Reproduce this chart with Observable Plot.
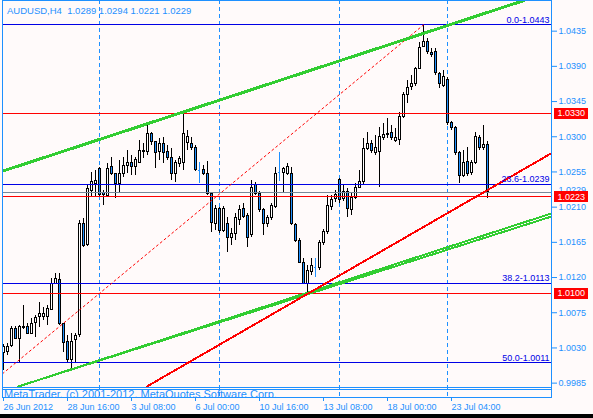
<!DOCTYPE html>
<html><head><meta charset="utf-8">
<script src="https://cdn.jsdelivr.net/npm/d3@7"></script>
<script src="https://cdn.jsdelivr.net/npm/@observablehq/plot@0.6"></script>
<style>
html,body{margin:0;padding:0;background:#000;}
#chart svg{display:block;}
</style></head><body><div id="chart"></div>
<script>
const symbol = "AUDUSD", timeframe = "H4";
const opens  = [1.0024,1.0025,1.0032,1.0054,1.0041,1.0055,1.0057,1.0048,1.0062,1.0069,1.0070,1.0070,1.0079,1.0112,1.0117,1.0060,1.0037,1.0014,1.0040,1.0046,
1.0189,1.0161,1.0231,1.0240,1.0259,1.0228,1.0224,1.0261,1.0252,1.0240,1.0253,1.0262,1.0267,1.0261,1.0267,1.0280,1.0281,1.0304,1.0293,1.0280,
1.0291,1.0280,1.0273,1.0253,1.0265,1.0266,1.0292,1.0291,1.0286,1.0257,1.0257,1.0253,1.0227,1.0189,1.0208,1.0180,1.0189,1.0170,1.0176,1.0193,
1.0208,1.0199,1.0174,1.0238,1.0227,1.0206,1.0189,1.0196,1.0210,1.0254,1.0254,1.0253,1.0253,1.0187,1.0167,1.0139,1.0112,1.0127,1.0133,1.0132,
1.0164,1.0178,1.0210,1.0220,1.0245,1.0220,1.0230,1.0206,1.0222,1.0235,1.0242,1.0284,1.0291,1.0279,1.0280,1.0299,1.0302,1.0305,1.0295,1.0296,
1.0325,1.0353,1.0363,1.0367,1.0387,1.0415,1.0421,1.0407,1.0408,1.0380,1.0365,1.0372,1.0317,1.0311,1.0279,1.0250,1.0268,1.0254,1.0267,1.0299,
1.0285,1.0289];
const highs  = [1.0034,1.0036,1.0057,1.0057,1.0059,1.0084,1.0061,1.0068,1.0072,1.0088,1.0082,1.0084,1.0119,1.0125,1.0125,1.0061,1.0046,1.0048,1.0048,1.0193,
1.0196,1.0239,1.0254,1.0257,1.0261,1.0231,1.0266,1.0273,1.0253,1.0270,1.0273,1.0282,1.0276,1.0273,1.0295,1.0291,1.0317,1.0305,1.0294,1.0298,
1.0299,1.0289,1.0285,1.0270,1.0275,1.0330,1.0308,1.0299,1.0289,1.0267,1.0263,1.0268,1.0229,1.0212,1.0209,1.0211,1.0197,1.0183,1.0202,1.0212,
1.0215,1.0202,1.0244,1.0242,1.0230,1.0208,1.0199,1.0215,1.0261,1.0280,1.0261,1.0266,1.0261,1.0189,1.0170,1.0144,1.0135,1.0144,1.0144,1.0167,
1.0181,1.0225,1.0225,1.0231,1.0247,1.0238,1.0234,1.0229,1.0240,1.0257,1.0298,1.0305,1.0295,1.0302,1.0312,1.0317,1.0323,1.0314,1.0311,1.0331,
1.0357,1.0372,1.0378,1.0389,1.0421,1.0443,1.0426,1.0413,1.0413,1.0382,1.0385,1.0376,1.0320,1.0313,1.0281,1.0282,1.0286,1.0270,1.0305,1.0302,
1.0314,1.0294];
const lows   = [1.0001,1.0020,1.0031,1.0041,1.0010,1.0054,1.0047,1.0047,1.0043,1.0056,1.0065,1.0059,1.0078,1.0111,1.0059,1.0024,1.0011,1.0001,1.0010,1.0043,
1.0158,1.0160,1.0222,1.0224,1.0224,1.0212,1.0222,1.0250,1.0221,1.0227,1.0248,1.0253,1.0250,1.0250,1.0266,1.0272,1.0276,1.0289,1.0259,1.0270,
1.0266,1.0270,1.0244,1.0241,1.0261,1.0257,1.0282,1.0282,1.0256,1.0240,1.0250,1.0225,1.0178,1.0180,1.0176,1.0178,1.0152,1.0161,1.0167,1.0187,
1.0196,1.0158,1.0171,1.0225,1.0203,1.0174,1.0184,1.0193,1.0208,1.0243,1.0227,1.0250,1.0187,1.0165,1.0138,1.0111,1.0101,1.0123,1.0120,1.0129,
1.0161,1.0175,1.0206,1.0216,1.0215,1.0217,1.0197,1.0199,1.0220,1.0234,1.0239,1.0282,1.0279,1.0276,1.0235,1.0295,1.0298,1.0295,1.0293,1.0289,
1.0323,1.0343,1.0359,1.0364,1.0386,1.0414,1.0405,1.0401,1.0378,1.0362,1.0363,1.0314,1.0308,1.0276,1.0240,1.0248,1.0249,1.0250,1.0265,1.0282,
1.0282,1.0221];
const closes = [1.0031,1.0031,1.0054,1.0042,1.0057,1.0057,1.0048,1.0061,1.0068,1.0073,1.0074,1.0080,1.0112,1.0118,1.0060,1.0036,1.0014,1.0038,1.0045,1.0189,
1.0160,1.0233,1.0242,1.0244,1.0226,1.0225,1.0259,1.0253,1.0239,1.0253,1.0263,1.0267,1.0261,1.0270,1.0282,1.0282,1.0303,1.0293,1.0279,1.0291,
1.0279,1.0273,1.0253,1.0266,1.0271,1.0304,1.0300,1.0286,1.0258,1.0257,1.0253,1.0227,1.0190,1.0207,1.0180,1.0208,1.0170,1.0176,1.0196,1.0206,
1.0198,1.0171,1.0235,1.0227,1.0206,1.0189,1.0196,1.0212,1.0253,1.0254,1.0259,1.0261,1.0188,1.0167,1.0139,1.0112,1.0128,1.0135,1.0133,1.0164,
1.0178,1.0212,1.0219,1.0226,1.0219,1.0230,1.0208,1.0222,1.0235,1.0242,1.0284,1.0291,1.0282,1.0285,1.0300,1.0302,1.0304,1.0298,1.0298,1.0325,
1.0354,1.0362,1.0368,1.0387,1.0414,1.0421,1.0408,1.0404,1.0381,1.0367,1.0376,1.0317,1.0311,1.0279,1.0250,1.0267,1.0253,1.0267,1.0300,1.0285,
1.0290,1.0229];

const timeTickBars = [0,16,32,48,64,80,96,112];
const timeLabels = ["26 Jun 2012","28 Jun 16:00","3 Jul 08:00","6 Jul 00:00","10 Jul 16:00","13 Jul 08:00","18 Jul 00:00","23 Jul 04:00"];
const weekSeparators = [24,54,84,111];
const priceTicks = [1.0435,1.0390,1.0345,1.0300,1.0255,1.0210,1.0165,1.0120,1.0075,1.0030,0.9985];

const fibLevels = [0.0, 23.6, 38.2, 50.0];
const fibPrices = [1.0443, 1.0239, 1.0113, 1.0011];
const redLevels = [1.0330, 1.0223, 1.0100];
const bidPrice = 1.0229;

// trend lines: [bar index, price] anchor pairs
const upperChannel = [[-0.25, 1.0256], [130, 1.0474]];
const lowerChannelA = [[3.7, 0.99807], [137, 1.0202]];
const lowerChannelB = [[3.7, 0.99807], [137, 1.0198]];
const redTrend = [[35.85, 0.99807], [137, 1.0279]];
const fibTrend = [[-0.25, 0.9997], [105, 1.0443]];

const caption = "MetaTrader, (c) 2001-2012, MetaQuotes Software Corp.";

// ---- build ----
const BLUE = "#1E90FF", FIB = "#0000E6", GREEN = "#32CD32", BEAR = "#1E90FF";
const W = 593, H = 414;
const CRISP = "crispEdges";
const bars = opens.map((o,i)=>({k:i, open:o, high:highs[i], low:lows[i], close:closes[i]}));
const isDoji = d => d.open === d.close;
const bodies = bars.filter(d => !isDoji(d));
const dojis = bars.filter(isDoji);
const last = bars[bars.length-1];
const f4 = d3.format(".4f");
const title = `${symbol},${timeframe}\u00a0 ${f4(last.open)} ${f4(last.high)} ${f4(last.low)} ${f4(last.close)}`;
const pts = a => a.map(([k,p]) => ({k, p}));
const fib = fibLevels.map((l,i)=>({level:l, price:fibPrices[i]}));

const yDomain = [0.99807, 1.04742];
const yPx = [386, 0];
const pxToPrice = px => yDomain[1] - (px - yPx[1]) * (yDomain[1]-yDomain[0])/(yPx[0]-yPx[1]);
const pxToBar = px => (px - 3) / 4;

const chart = Plot.plot({
  width: W, height: H,
  marginLeft: 2, marginRight: 42, marginTop: 0, marginBottom: 17,
  style: {background: "#FFFAFA", color: BLUE, fontFamily: "Liberation Sans, Arial, sans-serif", fontSize: "9px"},
  x: {domain: [-0.25, 137], axis: null, label: null},
  y: {domain: yDomain, range: yPx, axis: null, label: null},
  color: {type: "identity"},
  marks: [
    Plot.ruleX(weekSeparators, {stroke: BLUE, strokeDasharray: "4,3", shapeRendering: CRISP}),
    // candles
    Plot.ruleX(bars, {x: "k", y1: "low", y2: "high", stroke: d => isDoji(d) ? BLUE : "black", shapeRendering: CRISP}),
    Plot.rect(bodies, {x1: d => d.k - 0.25, x2: d => d.k + 0.25, y1: "open", y2: "close",
      fill: d => d.close > d.open ? "white" : BEAR, stroke: "black", strokeWidth: 1, shapeRendering: CRISP}),
    Plot.ruleY(dojis, {y: "open", x1: d => d.k - 0.3, x2: d => d.k + 0.3, stroke: BLUE, shapeRendering: CRISP}),
    // objects
    Plot.ruleY(fibPrices, {stroke: FIB, shapeRendering: CRISP}),
    Plot.ruleY([bidPrice], {stroke: "#778899", shapeRendering: CRISP}),
    Plot.ruleY(redLevels, {stroke: "#FF0000", shapeRendering: CRISP}),
    Plot.line(pts(fibTrend), {x: "k", y: "p", stroke: "red", strokeWidth: 1, strokeDasharray: "2,3", clip: true}),
    Plot.line(pts(upperChannel), {x: "k", y: "p", stroke: GREEN, strokeWidth: 3, clip: true, shapeRendering: CRISP}),
    Plot.line(pts(lowerChannelA), {x: "k", y: "p", stroke: GREEN, strokeWidth: 2, clip: true, shapeRendering: CRISP}),
    Plot.line(pts(lowerChannelB), {x: "k", y: "p", stroke: GREEN, strokeWidth: 2, clip: true, shapeRendering: CRISP}),
    Plot.line(pts(redTrend), {x: "k", y: "p", stroke: "red", strokeWidth: 2, clip: true, shapeRendering: CRISP}),
    Plot.text(fib, {y: "price", text: d => `${d.level.toFixed(1)}-${f4(d.price)}`, frameAnchor: "right",
      textAnchor: "end", lineAnchor: "bottom", dx: -2, dy: -2, fill: FIB, fontSize: 9}),
    // caption box
    Plot.ruleY([pxToPrice(387), pxToPrice(389)], {stroke: BLUE, shapeRendering: CRISP}),
    Plot.text([caption], {frameAnchor: "bottom-left", dx: 1.5, dy: 0.5, lineAnchor: "bottom", textAnchor: "start", clip: true, fill: BLUE, fontSize: 11}),
    Plot.frame({stroke: BLUE, shapeRendering: CRISP}),
    // axes
    Plot.axisY(priceTicks, {anchor: "right", label: null, tickFormat: f4, tickSize: 5, tickPadding: 2, fontSize: 9}),
    Plot.axisX(timeTickBars, {anchor: "bottom", label: null, tickFormat: d => timeLabels[timeTickBars.indexOf(d)],
      tickSize: 4, tickPadding: 2, textAnchor: "start", fontSize: 9}),
    // price labels on axis (bid label partly hidden by the red box, as in the original)
    Plot.text([bidPrice], {y: d => d, text: f4, frameAnchor: "right", dx: 7, dy: -2, textAnchor: "start", fill: BLUE, fontSize: 9}),
    Plot.ruleY(redLevels, {y: d => d, x1: pxToBar(554), x2: pxToBar(588), stroke: "red", strokeWidth: 11, shapeRendering: CRISP}),
    Plot.text(redLevels, {y: d => d, text: f4, frameAnchor: "right", dx: 6, textAnchor: "start", fill: "white", fontSize: 9}),
    // title
    Plot.text([title], {frameAnchor: "top-left", dx: 4.5, dy: 7, lineAnchor: "top", textAnchor: "start", fill: BLUE, fontSize: 9.5})
  ]
});
document.getElementById("chart").appendChild(chart);
</script></body></html>
